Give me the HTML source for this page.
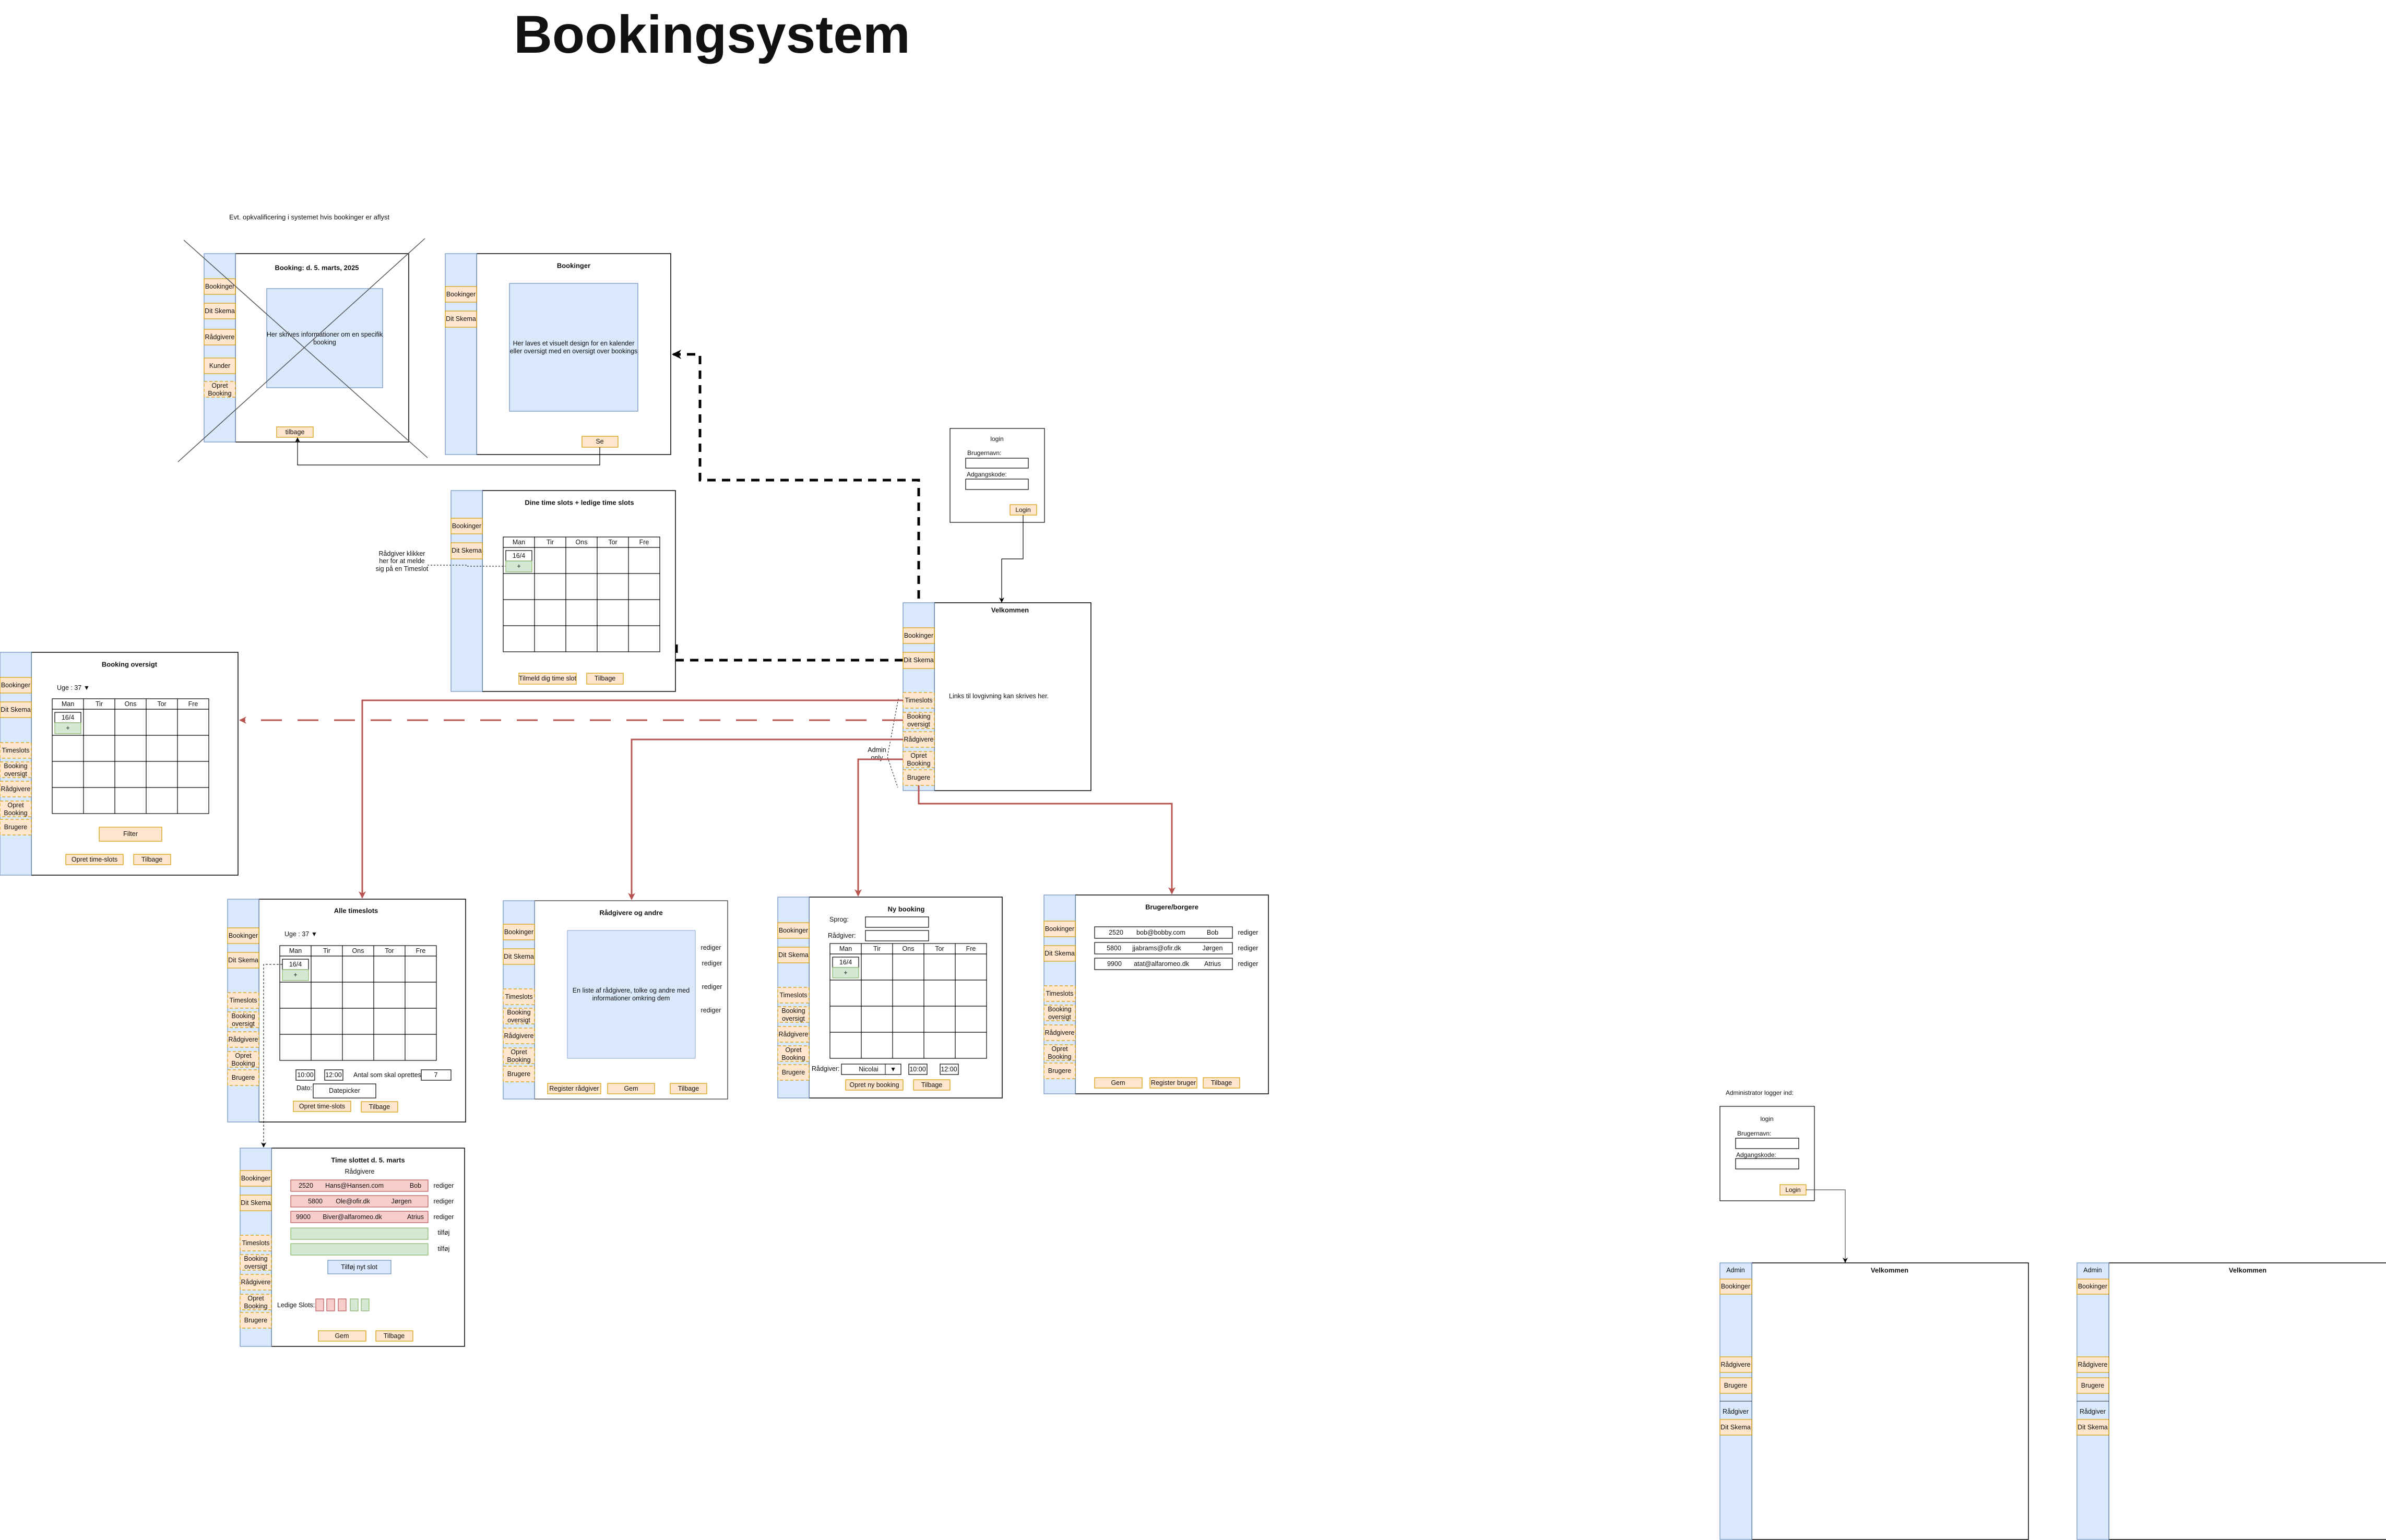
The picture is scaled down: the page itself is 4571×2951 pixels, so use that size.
<!DOCTYPE html>
<html><head><meta charset="utf-8"><style>
html,body{margin:0;padding:0;background:#fff;}
svg{display:block;font-family:"Liberation Sans",Arial,sans-serif;}
text{font-size:12.5px;fill:#111;}
.t{font-weight:bold;font-size:13px;}
.sb{fill:#dae8fc;stroke:#6c8ebf;stroke-width:1.2;}
.m{fill:#fff;stroke:#000;stroke-width:1.5;}
.nb{fill:#ffe6cc;stroke:#d79b00;stroke-width:1.2;}
.nd{fill:#ffe6cc;stroke:#d79b00;stroke-width:1.2;stroke-dasharray:6 4;}
.bl{fill:#dae8fc;stroke:#6c8ebf;stroke-width:1.2;}
.gr{fill:#d5e8d4;stroke:#82b366;stroke-width:1.2;}
.rd{fill:#f8cecc;stroke:#b85450;stroke-width:1.2;}
.bx{fill:#fff;stroke:#000;stroke-width:1.2;}
.g{fill:none;stroke:#000;stroke-width:1.5;}
.red{fill:none;stroke:#b85450;stroke-width:3;}
</style></head><body>
<svg width="4571" height="2951" viewBox="0 0 4571 2951" xmlns="http://www.w3.org/2000/svg">
<defs>
<marker id="ab" markerWidth="10" markerHeight="10" refX="8" refY="5" orient="auto" markerUnits="userSpaceOnUse"><path d="M0,0 L10,5 L0,10 L3,5 z" fill="#000"/></marker>
<marker id="ar" markerWidth="14" markerHeight="14" refX="12" refY="7" orient="auto" markerUnits="userSpaceOnUse"><path d="M0,0 L14,7 L0,14 L4,7 z" fill="#b85450"/></marker>
<marker id="abb" markerWidth="18" markerHeight="18" refX="15" refY="9" orient="auto" markerUnits="userSpaceOnUse"><path d="M0,0 L18,9 L0,18 L5,9 z" fill="#000"/></marker>
</defs>

<text x="1364" y="66" text-anchor="middle" style="font-size:102px;font-weight:bold;" dominant-baseline="central">Bookingsystem</text>

<text x="439" y="416" dominant-baseline="central" style="font-size:13px">Evt. opkvalificering i systemet hvis bookinger er aflyst</text>

<!-- Crossed booking box -->
<rect class="m" x="451" y="486" width="332" height="361"/>
<rect class="sb" x="391" y="486" width="60" height="361"/>
<rect class="nb" x="391" y="534" width="60" height="30"/><text x="421" y="549" text-anchor="middle" dominant-baseline="central">Bookinger</text>
<rect class="nb" x="391" y="581" width="60" height="30"/><text x="421" y="596" text-anchor="middle" dominant-baseline="central">Dit Skema</text>
<rect class="nb" x="391" y="631" width="60" height="30"/><text x="421" y="646" text-anchor="middle" dominant-baseline="central">Rådgivere</text>
<rect class="nb" x="391" y="686" width="60" height="30"/><text x="421" y="701" text-anchor="middle" dominant-baseline="central">Kunder</text>
<rect class="nd" x="391" y="731" width="60" height="30"/><text x="421" y="739" text-anchor="middle" dominant-baseline="central">Opret</text><text x="421" y="754" text-anchor="middle" dominant-baseline="central">Booking</text>
<text class="t" x="607" y="513" text-anchor="middle" dominant-baseline="central">Booking: d. 5. marts, 2025</text>
<rect class="bl" x="511" y="553" width="222" height="190"/>
<text x="622" y="641" text-anchor="middle" dominant-baseline="central">Her skrives informationer om en specifik</text>
<text x="622" y="656" text-anchor="middle" dominant-baseline="central">booking</text>
<rect class="nb" x="530" y="818" width="70" height="20"/><text x="565" y="828" text-anchor="middle" dominant-baseline="central">tilbage</text>
<line x1="352" y1="460" x2="819" y2="877" stroke="#555" stroke-width="1.5"/>
<line x1="341" y1="885" x2="814" y2="457" stroke="#555" stroke-width="1.5"/>

<!-- Bookinger box -->
<rect class="m" x="913" y="486" width="372" height="385"/>
<rect class="sb" x="853" y="486" width="60" height="385"/>
<rect class="nb" x="853" y="549" width="60" height="30"/><text x="883" y="564" text-anchor="middle" dominant-baseline="central">Bookinger</text>
<rect class="nb" x="853" y="596" width="60" height="31"/><text x="883" y="611" text-anchor="middle" dominant-baseline="central">Dit Skema</text>
<text class="t" x="1099" y="509" text-anchor="middle" dominant-baseline="central">Bookinger</text>
<rect class="bl" x="976" y="543" width="246" height="245"/>
<text x="1099" y="658" text-anchor="middle" dominant-baseline="central">Her laves et visuelt design for en kalender</text>
<text x="1099" y="673" text-anchor="middle" dominant-baseline="central">eller oversigt med en oversigt over bookings</text>
<rect class="nb" x="1115" y="836" width="69" height="21"/><text x="1149" y="846" text-anchor="middle" dominant-baseline="central">Se</text>
<path class="g" d="M1149,857 V891 H570 V840" marker-end="url(#ab)" style="stroke-width:1.2"/>

<!-- thick dashed -->
<path d="M1760,1203 V920 H1341 V679 H1290" fill="none" stroke="#000" stroke-width="5" stroke-dasharray="16 12" marker-end="url(#abb)"/>
<path d="M1730,1265 H1296 V1232" fill="none" stroke="#000" stroke-width="5" stroke-dasharray="16 12"/>

<!-- Login -->
<rect class="bx" x="1820" y="821" width="181" height="180"/>
<text x="1910" y="841" text-anchor="middle" dominant-baseline="central" style="font-size:12px">login</text>
<text x="1853" y="868" dominant-baseline="central" style="font-size:12px">Brugernavn:</text>
<rect class="bx" x="1850" y="878" width="120" height="19"/>
<text x="1852" y="909" dominant-baseline="central" style="font-size:12px">Adgangskode:</text>
<rect class="bx" x="1850" y="918" width="120" height="20"/>
<rect class="nb" x="1935" y="967" width="51" height="20"/><text x="1960" y="977" text-anchor="middle" dominant-baseline="central" style="font-size:12px">Login</text>
<path class="g" d="M1960,987 V1071 H1919 V1153" marker-end="url(#ab)" style="stroke-width:1.2"/>

<!-- Velkommen main -->
<rect class="m" x="1790" y="1155" width="300" height="360"/>
<rect class="sb" x="1730" y="1155" width="60" height="360"/>
<text class="t" x="1935" y="1169" text-anchor="middle" dominant-baseline="central">Velkommen</text>
<text x="1818" y="1334" dominant-baseline="central">Links til lovgivning kan skrives her.</text>
<rect class="nb" x="1730" y="1203" width="60" height="30"/><text x="1760" y="1218" text-anchor="middle" dominant-baseline="central">Bookinger</text>
<rect class="nb" x="1730" y="1250" width="60" height="31"/><text x="1760" y="1265" text-anchor="middle" dominant-baseline="central">Dit Skema</text>
<rect class="nd" x="1730" y="1327" width="60" height="30"/><text x="1760" y="1342" text-anchor="middle" dominant-baseline="central">Timeslots</text>
<rect class="nd" x="1730" y="1365" width="60" height="31"/><text x="1760" y="1373" text-anchor="middle" dominant-baseline="central">Booking</text><text x="1760" y="1388" text-anchor="middle" dominant-baseline="central">oversigt</text>
<rect class="nd" x="1730" y="1402" width="60" height="30"/><text x="1760" y="1417" text-anchor="middle" dominant-baseline="central">Rådgivere</text>
<rect class="nd" x="1730" y="1440" width="60" height="31"/><text x="1760" y="1448" text-anchor="middle" dominant-baseline="central">Opret</text><text x="1760" y="1463" text-anchor="middle" dominant-baseline="central">Booking</text>
<rect class="nd" x="1730" y="1475" width="60" height="30"/><text x="1760" y="1490" text-anchor="middle" dominant-baseline="central">Brugere</text>
<text x="1680" y="1437" text-anchor="middle" dominant-baseline="central">Admin</text>
<text x="1680" y="1452" text-anchor="middle" dominant-baseline="central">only</text>
<path d="M1721,1339 L1700,1450 L1720,1509" fill="none" stroke="#000" stroke-width="1" stroke-dasharray="3 3"/>

<!-- red connectors -->
<path class="red" d="M1730,1342 H694 V1720" marker-end="url(#ar)"/>
<path class="red" d="M1730,1380 H460" stroke-dasharray="40 30" marker-end="url(#ar)"/>
<path class="red" d="M1730,1417 H1210 V1723" marker-end="url(#ar)"/>
<path class="red" d="M1730,1455 H1644 V1716" marker-end="url(#ar)"/>
<path class="red" d="M1760,1505 V1540 H2245 V1712" marker-end="url(#ar)"/>

<!-- Dine time slots -->
<rect class="m" x="924" y="940" width="370" height="385"/>
<rect class="sb" x="864" y="940" width="60" height="385"/>
<rect class="nb" x="864" y="993" width="60" height="30"/><text x="894" y="1008" text-anchor="middle" dominant-baseline="central">Bookinger</text>
<rect class="nb" x="864" y="1040" width="60" height="31"/><text x="894" y="1055" text-anchor="middle" dominant-baseline="central">Dit Skema</text>
<text class="t" x="1110" y="963" text-anchor="middle" dominant-baseline="central">Dine time slots + ledige time slots</text>
<g transform="translate(964,1029)">
<rect class="bx" x="0" y="0" width="300" height="220"/>
<path d="M0,20 H300 M0,70 H300 M0,120 H300 M0,170 H300 M60,0 V220 M120,0 V220 M180,0 V220 M240,0 V220" stroke="#000" stroke-width="1.2" fill="none"/>
<text x="30" y="10" text-anchor="middle" dominant-baseline="central">Man</text><text x="90" y="10" text-anchor="middle" dominant-baseline="central">Tir</text><text x="150" y="10" text-anchor="middle" dominant-baseline="central">Ons</text><text x="210" y="10" text-anchor="middle" dominant-baseline="central">Tor</text><text x="270" y="10" text-anchor="middle" dominant-baseline="central">Fre</text>
<rect class="bx" x="5" y="26" width="50" height="20"/><text x="30" y="36" text-anchor="middle" dominant-baseline="central">16/4</text>
<rect class="gr" x="5" y="46" width="50" height="21"/><text x="30" y="56" text-anchor="middle" dominant-baseline="central">+</text>
</g>
<rect class="nb" x="994" y="1290" width="110" height="21"/><text x="1049" y="1300" text-anchor="middle" dominant-baseline="central">Tilmeld dig time slot</text>
<rect class="nb" x="1124" y="1290" width="70" height="21"/><text x="1159" y="1300" text-anchor="middle" dominant-baseline="central">Tilbage</text>
<text x="770" y="1061" text-anchor="middle" dominant-baseline="central">Rådgiver klikker</text>
<text x="770" y="1075" text-anchor="middle" dominant-baseline="central">her for at melde</text>
<text x="770" y="1090" text-anchor="middle" dominant-baseline="central">sig på en Timeslot</text>
<path d="M819,1083 H894 V1085 H968" fill="none" stroke="#000" stroke-width="1" stroke-dasharray="3 3"/>

<!-- Booking oversigt -->
<rect class="m" x="60" y="1250" width="396" height="427"/>
<rect class="sb" x="0" y="1250" width="60" height="427"/>
<text class="t" x="248" y="1273" text-anchor="middle" dominant-baseline="central">Booking oversigt</text>
<rect class="nb" x="0" y="1298" width="60" height="30"/><text x="30" y="1313" text-anchor="middle" dominant-baseline="central">Bookinger</text>
<rect class="nb" x="0" y="1345" width="60" height="30"/><text x="30" y="1360" text-anchor="middle" dominant-baseline="central">Dit Skema</text>
<rect class="nd" x="0" y="1423" width="60" height="30"/><text x="30" y="1438" text-anchor="middle" dominant-baseline="central">Timeslots</text>
<rect class="nd" x="0" y="1460" width="60" height="30"/><text x="30" y="1468" text-anchor="middle" dominant-baseline="central">Booking</text><text x="30" y="1483" text-anchor="middle" dominant-baseline="central">oversigt</text>
<rect class="nd" x="0" y="1497" width="60" height="30"/><text x="30" y="1512" text-anchor="middle" dominant-baseline="central">Rådgivere</text>
<rect class="nd" x="0" y="1535" width="60" height="30"/><text x="30" y="1543" text-anchor="middle" dominant-baseline="central">Opret</text><text x="30" y="1558" text-anchor="middle" dominant-baseline="central">Booking</text>
<rect class="nd" x="0" y="1570" width="60" height="30"/><text x="30" y="1585" text-anchor="middle" dominant-baseline="central">Brugere</text>
<text x="109" y="1318" dominant-baseline="central">Uge : 37 ▼</text>
<g transform="translate(100,1339)">
<rect class="bx" x="0" y="0" width="300" height="220"/>
<path d="M0,20 H300 M0,70 H300 M0,120 H300 M0,170 H300 M60,0 V220 M120,0 V220 M180,0 V220 M240,0 V220" stroke="#000" stroke-width="1.2" fill="none"/>
<text x="30" y="10" text-anchor="middle" dominant-baseline="central">Man</text><text x="90" y="10" text-anchor="middle" dominant-baseline="central">Tir</text><text x="150" y="10" text-anchor="middle" dominant-baseline="central">Ons</text><text x="210" y="10" text-anchor="middle" dominant-baseline="central">Tor</text><text x="270" y="10" text-anchor="middle" dominant-baseline="central">Fre</text>
<rect class="bx" x="5" y="26" width="50" height="20"/><text x="30" y="36" text-anchor="middle" dominant-baseline="central">16/4</text>
<rect class="gr" x="5" y="46" width="50" height="21"/><text x="30" y="56" text-anchor="middle" dominant-baseline="central">+</text>
</g>
<rect class="nb" x="190" y="1585" width="120" height="27"/><text x="250" y="1598" text-anchor="middle" dominant-baseline="central">Filter</text>
<rect class="nb" x="126" y="1637" width="110" height="20"/><text x="181" y="1647" text-anchor="middle" dominant-baseline="central">Opret time-slots</text>
<rect class="nb" x="256" y="1637" width="71" height="20"/><text x="291" y="1647" text-anchor="middle" dominant-baseline="central">Tilbage</text>

<!-- Alle timeslots -->
<rect class="m" x="496" y="1723" width="396" height="427"/>
<rect class="sb" x="436" y="1723" width="60" height="427"/>
<text class="t" x="682" y="1745" text-anchor="middle" dominant-baseline="central">Alle timeslots</text>
<rect class="nb" x="436" y="1778" width="60" height="30"/><text x="466" y="1793" text-anchor="middle" dominant-baseline="central">Bookinger</text>
<rect class="nb" x="436" y="1825" width="60" height="30"/><text x="466" y="1840" text-anchor="middle" dominant-baseline="central">Dit Skema</text>
<rect class="nd" x="436" y="1902" width="60" height="30"/><text x="466" y="1917" text-anchor="middle" dominant-baseline="central">Timeslots</text>
<rect class="nd" x="436" y="1939" width="60" height="30"/><text x="466" y="1947" text-anchor="middle" dominant-baseline="central">Booking</text><text x="466" y="1962" text-anchor="middle" dominant-baseline="central">oversigt</text>
<rect class="nd" x="436" y="1977" width="60" height="30"/><text x="466" y="1992" text-anchor="middle" dominant-baseline="central">Rådgivere</text>
<rect class="nd" x="436" y="2015" width="60" height="30"/><text x="466" y="2023" text-anchor="middle" dominant-baseline="central">Opret</text><text x="466" y="2038" text-anchor="middle" dominant-baseline="central">Booking</text>
<rect class="nd" x="436" y="2050" width="60" height="30"/><text x="466" y="2065" text-anchor="middle" dominant-baseline="central">Brugere</text>
<text x="545" y="1790" dominant-baseline="central">Uge : 37 ▼</text>
<g transform="translate(536,1812)">
<rect class="bx" x="0" y="0" width="300" height="220"/>
<path d="M0,20 H300 M0,70 H300 M0,120 H300 M0,170 H300 M60,0 V220 M120,0 V220 M180,0 V220 M240,0 V220" stroke="#000" stroke-width="1.2" fill="none"/>
<text x="30" y="10" text-anchor="middle" dominant-baseline="central">Man</text><text x="90" y="10" text-anchor="middle" dominant-baseline="central">Tir</text><text x="150" y="10" text-anchor="middle" dominant-baseline="central">Ons</text><text x="210" y="10" text-anchor="middle" dominant-baseline="central">Tor</text><text x="270" y="10" text-anchor="middle" dominant-baseline="central">Fre</text>
<rect class="bx" x="5" y="26" width="50" height="20"/><text x="30" y="36" text-anchor="middle" dominant-baseline="central">16/4</text>
<rect class="gr" x="5" y="46" width="50" height="21"/><text x="30" y="56" text-anchor="middle" dominant-baseline="central">+</text>
</g>
<rect class="bx" x="567" y="2050" width="36" height="20"/><text x="585" y="2060" text-anchor="middle" dominant-baseline="central">10:00</text>
<rect class="bx" x="622" y="2050" width="35" height="20"/><text x="639" y="2060" text-anchor="middle" dominant-baseline="central">12:00</text>
<text x="677" y="2060" dominant-baseline="central">Antal som skal oprettes:</text>
<rect class="bx" x="807" y="2050" width="57" height="20"/><text x="835" y="2060" text-anchor="middle" dominant-baseline="central">7</text>
<text x="568" y="2085" dominant-baseline="central">Dato:</text>
<rect class="bx" x="600" y="2077" width="120" height="27"/><text x="660" y="2090" text-anchor="middle" dominant-baseline="central">Datepicker</text>
<rect class="nb" x="562" y="2110" width="110" height="20"/><text x="617" y="2120" text-anchor="middle" dominant-baseline="central">Opret time-slots</text>
<rect class="nb" x="692" y="2111" width="70" height="20"/><text x="727" y="2121" text-anchor="middle" dominant-baseline="central">Tilbage</text>
<path d="M541,1848 H505 V2197" fill="none" stroke="#000" stroke-width="1" stroke-dasharray="4 3" marker-end="url(#ab)"/>

<!-- Time slottet -->
<rect class="m" x="520" y="2200" width="370" height="380"/>
<rect class="sb" x="460" y="2200" width="60" height="380"/>
<text class="t" x="705" y="2223" text-anchor="middle" dominant-baseline="central">Time slottet d. 5. marts</text>
<text x="689" y="2245" text-anchor="middle" dominant-baseline="central">Rådgivere</text>
<rect class="nb" x="460" y="2243" width="60" height="30"/><text x="490" y="2258" text-anchor="middle" dominant-baseline="central">Bookinger</text>
<rect class="nb" x="460" y="2290" width="60" height="30"/><text x="490" y="2305" text-anchor="middle" dominant-baseline="central">Dit Skema</text>
<rect class="nd" x="460" y="2367" width="60" height="30"/><text x="490" y="2382" text-anchor="middle" dominant-baseline="central">Timeslots</text>
<rect class="nd" x="460" y="2404" width="60" height="30"/><text x="490" y="2412" text-anchor="middle" dominant-baseline="central">Booking</text><text x="490" y="2427" text-anchor="middle" dominant-baseline="central">oversigt</text>
<rect class="nd" x="460" y="2442" width="60" height="30"/><text x="490" y="2457" text-anchor="middle" dominant-baseline="central">Rådgivere</text>
<rect class="nd" x="460" y="2480" width="60" height="30"/><text x="490" y="2488" text-anchor="middle" dominant-baseline="central">Opret</text><text x="490" y="2503" text-anchor="middle" dominant-baseline="central">Booking</text>
<rect class="nd" x="460" y="2515" width="60" height="30"/><text x="490" y="2530" text-anchor="middle" dominant-baseline="central">Brugere</text>
<rect class="rd" x="557" y="2261" width="263" height="22"/>
<text x="586" y="2272" text-anchor="middle" dominant-baseline="central">2520</text><text x="679" y="2272" text-anchor="middle" dominant-baseline="central">Hans@Hansen.com</text><text x="796" y="2272" text-anchor="middle" dominant-baseline="central">Bob</text>
<rect class="rd" x="557" y="2291" width="263" height="22"/>
<text x="604" y="2302" text-anchor="middle" dominant-baseline="central">5800</text><text x="676" y="2302" text-anchor="middle" dominant-baseline="central">Ole@ofir.dk</text><text x="769" y="2302" text-anchor="middle" dominant-baseline="central">Jørgen</text>
<rect class="rd" x="557" y="2321" width="263" height="22"/>
<text x="581" y="2332" text-anchor="middle" dominant-baseline="central">9900</text><text x="675" y="2332" text-anchor="middle" dominant-baseline="central">Biver@alfaromeo.dk</text><text x="796" y="2332" text-anchor="middle" dominant-baseline="central">Atrius</text>
<rect class="gr" x="557" y="2353" width="263" height="22"/>
<rect class="gr" x="557" y="2383" width="263" height="22"/>
<text x="850" y="2272" text-anchor="middle" dominant-baseline="central">rediger</text>
<text x="850" y="2302" text-anchor="middle" dominant-baseline="central">rediger</text>
<text x="850" y="2332" text-anchor="middle" dominant-baseline="central">rediger</text>
<text x="850" y="2362" text-anchor="middle" dominant-baseline="central">tilføj</text>
<text x="850" y="2393" text-anchor="middle" dominant-baseline="central">tilføj</text>
<rect class="bl" x="628" y="2415" width="121" height="26"/><text x="688" y="2428" text-anchor="middle" dominant-baseline="central">Tilføj nyt slot</text>
<text x="531" y="2501" dominant-baseline="central">Ledige Slots:</text>
<rect class="rd" x="605" y="2489" width="15" height="23"/><rect class="rd" x="626" y="2489" width="15" height="23"/><rect class="rd" x="648" y="2489" width="15" height="23"/>
<rect class="gr" x="671" y="2489" width="15" height="23"/><rect class="gr" x="692" y="2489" width="15" height="23"/>
<rect class="nb" x="610" y="2550" width="91" height="20"/><text x="655" y="2560" text-anchor="middle" dominant-baseline="central">Gem</text>
<rect class="nb" x="720" y="2550" width="71" height="20"/><text x="755" y="2560" text-anchor="middle" dominant-baseline="central">Tilbage</text>

<!-- Rådgivere og andre -->
<rect class="m" x="1024" y="1726" width="370" height="380" style="stroke:#555"/>
<rect class="sb" x="964" y="1726" width="60" height="380"/>
<text class="t" x="1209" y="1749" text-anchor="middle" dominant-baseline="central">Rådgivere og andre</text>
<rect class="nb" x="964" y="1771" width="60" height="30"/><text x="994" y="1786" text-anchor="middle" dominant-baseline="central">Bookinger</text>
<rect class="nb" x="964" y="1818" width="60" height="30"/><text x="994" y="1833" text-anchor="middle" dominant-baseline="central">Dit Skema</text>
<rect class="nd" x="964" y="1895" width="60" height="30"/><text x="994" y="1910" text-anchor="middle" dominant-baseline="central">Timeslots</text>
<rect class="nd" x="964" y="1932" width="60" height="30"/><text x="994" y="1940" text-anchor="middle" dominant-baseline="central">Booking</text><text x="994" y="1955" text-anchor="middle" dominant-baseline="central">oversigt</text>
<rect class="nd" x="964" y="1970" width="60" height="30"/><text x="994" y="1985" text-anchor="middle" dominant-baseline="central">Rådgivere</text>
<rect class="nd" x="964" y="2008" width="60" height="30"/><text x="994" y="2016" text-anchor="middle" dominant-baseline="central">Opret</text><text x="994" y="2031" text-anchor="middle" dominant-baseline="central">Booking</text>
<rect class="nd" x="964" y="2043" width="60" height="30"/><text x="994" y="2058" text-anchor="middle" dominant-baseline="central">Brugere</text>
<rect class="bl" x="1087" y="1783" width="245" height="245" style="stroke:#9ab0d8"/>
<text x="1209" y="1898" text-anchor="middle" dominant-baseline="central">En liste af rådgivere, tolke og andre med</text>
<text x="1209" y="1913" text-anchor="middle" dominant-baseline="central">informationer omkring dem</text>
<text x="1362" y="1816" text-anchor="middle" dominant-baseline="central">rediger</text>
<text x="1364" y="1846" text-anchor="middle" dominant-baseline="central">rediger</text>
<text x="1364" y="1891" text-anchor="middle" dominant-baseline="central">rediger</text>
<text x="1362" y="1936" text-anchor="middle" dominant-baseline="central">rediger</text>
<rect class="nb" x="1049" y="2076" width="102" height="20"/><text x="1100" y="2086" text-anchor="middle" dominant-baseline="central">Register rådgiver</text>
<rect class="nb" x="1164" y="2076" width="90" height="20"/><text x="1209" y="2086" text-anchor="middle" dominant-baseline="central">Gem</text>
<rect class="nb" x="1284" y="2076" width="70" height="20"/><text x="1319" y="2086" text-anchor="middle" dominant-baseline="central">Tilbage</text>

<!-- Ny booking -->
<rect class="m" x="1550" y="1719" width="370" height="385"/>
<rect class="sb" x="1490" y="1719" width="60" height="385"/>
<text class="t" x="1736" y="1742" text-anchor="middle" dominant-baseline="central">Ny booking</text>
<rect class="nb" x="1490" y="1768" width="60" height="30"/><text x="1520" y="1783" text-anchor="middle" dominant-baseline="central">Bookinger</text>
<rect class="nb" x="1490" y="1815" width="60" height="30"/><text x="1520" y="1830" text-anchor="middle" dominant-baseline="central">Dit Skema</text>
<rect class="nd" x="1490" y="1892" width="60" height="30"/><text x="1520" y="1907" text-anchor="middle" dominant-baseline="central">Timeslots</text>
<rect class="nd" x="1490" y="1929" width="60" height="30"/><text x="1520" y="1937" text-anchor="middle" dominant-baseline="central">Booking</text><text x="1520" y="1952" text-anchor="middle" dominant-baseline="central">oversigt</text>
<rect class="nd" x="1490" y="1967" width="60" height="30"/><text x="1520" y="1982" text-anchor="middle" dominant-baseline="central">Rådgivere</text>
<rect class="nd" x="1490" y="2004" width="60" height="30"/><text x="1520" y="2012" text-anchor="middle" dominant-baseline="central">Opret</text><text x="1520" y="2027" text-anchor="middle" dominant-baseline="central">Booking</text>
<rect class="nd" x="1490" y="2040" width="60" height="30"/><text x="1520" y="2055" text-anchor="middle" dominant-baseline="central">Brugere</text>
<text x="1589" y="1762" dominant-baseline="central">Sprog:</text>
<rect class="bx" x="1658" y="1757" width="121" height="20"/>
<text x="1586" y="1793" dominant-baseline="central">Rådgiver:</text>
<rect class="bx" x="1658" y="1783" width="121" height="20"/>
<g transform="translate(1590,1808)">
<rect class="bx" x="0" y="0" width="300" height="220"/>
<path d="M0,20 H300 M0,70 H300 M0,120 H300 M0,170 H300 M60,0 V220 M120,0 V220 M180,0 V220 M240,0 V220" stroke="#000" stroke-width="1.2" fill="none"/>
<text x="30" y="10" text-anchor="middle" dominant-baseline="central">Man</text><text x="90" y="10" text-anchor="middle" dominant-baseline="central">Tir</text><text x="150" y="10" text-anchor="middle" dominant-baseline="central">Ons</text><text x="210" y="10" text-anchor="middle" dominant-baseline="central">Tor</text><text x="270" y="10" text-anchor="middle" dominant-baseline="central">Fre</text>
<rect class="bx" x="5" y="26" width="50" height="20"/><text x="30" y="36" text-anchor="middle" dominant-baseline="central">16/4</text>
<rect class="gr" x="5" y="46" width="50" height="20"/><text x="30" y="56" text-anchor="middle" dominant-baseline="central">+</text>
</g>
<text x="1555" y="2048" dominant-baseline="central">Rådgiver:</text>
<rect class="bx" x="1612" y="2039" width="114" height="20"/><line x1="1696" y1="2039" x2="1696" y2="2059" stroke="#000"/>
<text x="1664" y="2049" text-anchor="middle" dominant-baseline="central">Nicolai</text><text x="1711" y="2049" text-anchor="middle" dominant-baseline="central">▼</text>
<rect class="bx" x="1741" y="2039" width="35" height="20"/><text x="1758" y="2049" text-anchor="middle" dominant-baseline="central">10:00</text>
<rect class="bx" x="1801" y="2039" width="35" height="20"/><text x="1818" y="2049" text-anchor="middle" dominant-baseline="central">12:00</text>
<rect class="nb" x="1620" y="2069" width="110" height="20"/><text x="1675" y="2079" text-anchor="middle" dominant-baseline="central">Opret ny booking</text>
<rect class="nb" x="1750" y="2069" width="70" height="20"/><text x="1785" y="2079" text-anchor="middle" dominant-baseline="central">Tilbage</text>

<!-- Brugere/borgere -->
<rect class="m" x="2060" y="1715" width="370" height="381"/>
<rect class="sb" x="2000" y="1715" width="60" height="381"/>
<text class="t" x="2245" y="1738" text-anchor="middle" dominant-baseline="central">Brugere/borgere</text>
<rect class="nb" x="2000" y="1765" width="60" height="30"/><text x="2030" y="1780" text-anchor="middle" dominant-baseline="central">Bookinger</text>
<rect class="nb" x="2000" y="1812" width="60" height="30"/><text x="2030" y="1827" text-anchor="middle" dominant-baseline="central">Dit Skema</text>
<rect class="nd" x="2000" y="1889" width="60" height="30"/><text x="2030" y="1904" text-anchor="middle" dominant-baseline="central">Timeslots</text>
<rect class="nd" x="2000" y="1926" width="60" height="30"/><text x="2030" y="1934" text-anchor="middle" dominant-baseline="central">Booking</text><text x="2030" y="1949" text-anchor="middle" dominant-baseline="central">oversigt</text>
<rect class="nd" x="2000" y="1964" width="60" height="30"/><text x="2030" y="1979" text-anchor="middle" dominant-baseline="central">Rådgivere</text>
<rect class="nd" x="2000" y="2002" width="60" height="30"/><text x="2030" y="2010" text-anchor="middle" dominant-baseline="central">Opret</text><text x="2030" y="2025" text-anchor="middle" dominant-baseline="central">Booking</text>
<rect class="nd" x="2000" y="2037" width="60" height="30"/><text x="2030" y="2052" text-anchor="middle" dominant-baseline="central">Brugere</text>
<rect class="bx" x="2097" y="1776" width="264" height="22"/>
<text x="2138" y="1787" text-anchor="middle" dominant-baseline="central">2520</text><text x="2224" y="1787" text-anchor="middle" dominant-baseline="central">bob@bobby.com</text><text x="2323" y="1787" text-anchor="middle" dominant-baseline="central">Bob</text>
<rect class="bx" x="2097" y="1806" width="264" height="22"/>
<text x="2134" y="1817" text-anchor="middle" dominant-baseline="central">5800</text><text x="2216" y="1817" text-anchor="middle" dominant-baseline="central">jjabrams@ofir.dk</text><text x="2323" y="1817" text-anchor="middle" dominant-baseline="central">Jørgen</text>
<rect class="bx" x="2097" y="1836" width="264" height="22"/>
<text x="2135" y="1847" text-anchor="middle" dominant-baseline="central">9900</text><text x="2225" y="1847" text-anchor="middle" dominant-baseline="central">atat@alfaromeo.dk</text><text x="2323" y="1847" text-anchor="middle" dominant-baseline="central">Atrius</text>
<text x="2391" y="1787" text-anchor="middle" dominant-baseline="central">rediger</text>
<text x="2391" y="1817" text-anchor="middle" dominant-baseline="central">rediger</text>
<text x="2391" y="1847" text-anchor="middle" dominant-baseline="central">rediger</text>
<rect class="nb" x="2097" y="2065" width="91" height="20"/><text x="2142" y="2075" text-anchor="middle" dominant-baseline="central">Gem</text>
<rect class="nb" x="2203" y="2065" width="90" height="20"/><text x="2248" y="2075" text-anchor="middle" dominant-baseline="central">Register bruger</text>
<rect class="nb" x="2305" y="2065" width="70" height="20"/><text x="2340" y="2075" text-anchor="middle" dominant-baseline="central">Tilbage</text>

<!-- Admin login -->
<text x="3306" y="2094" dominant-baseline="central" style="font-size:12px">Administrator logger ind:</text>
<rect class="bx" x="3295" y="2120" width="181" height="181"/>
<text x="3385" y="2144" text-anchor="middle" dominant-baseline="central" style="font-size:12px">login</text>
<text x="3328" y="2172" dominant-baseline="central" style="font-size:12px">Brugernavn:</text>
<rect class="bx" x="3325" y="2181" width="121" height="20"/>
<text x="3326" y="2213" dominant-baseline="central" style="font-size:12px">Adgangskode:</text>
<rect class="bx" x="3325" y="2220" width="121" height="20"/>
<rect class="nb" x="3410" y="2270" width="50" height="20"/><text x="3435" y="2280" text-anchor="middle" dominant-baseline="central" style="font-size:12px">Login</text>
<path d="M3460,2280 H3535 V2418" fill="none" stroke="#555" stroke-width="1.2" marker-end="url(#ab)"/>

<!-- Admin Velkommen 1 -->
<rect class="m" x="3356" y="2420" width="530" height="530"/>
<rect class="sb" x="3295" y="2420" width="61" height="530"/>
<text class="t" x="3620" y="2434" text-anchor="middle" dominant-baseline="central">Velkommen</text>
<text x="3325" y="2434" text-anchor="middle" dominant-baseline="central">Admin</text>
<rect class="nb" x="3295" y="2451" width="61" height="29"/><text x="3325" y="2465" text-anchor="middle" dominant-baseline="central">Bookinger</text>
<rect class="nb" x="3295" y="2600" width="61" height="30"/><text x="3325" y="2615" text-anchor="middle" dominant-baseline="central">Rådgivere</text>
<rect class="nb" x="3295" y="2640" width="61" height="30"/><text x="3325" y="2655" text-anchor="middle" dominant-baseline="central">Brugere</text>
<line x1="3295" y1="2685" x2="3356" y2="2685" stroke="#333" stroke-width="1"/>
<text x="3325" y="2705" text-anchor="middle" dominant-baseline="central">Rådgiver</text>
<rect class="nb" x="3295" y="2720" width="61" height="30"/><text x="3325" y="2735" text-anchor="middle" dominant-baseline="central">Dit Skema</text>

<!-- Admin Velkommen 2 -->
<rect class="m" x="4040" y="2420" width="540" height="530"/>
<rect class="sb" x="3979" y="2420" width="61" height="530"/>
<text class="t" x="4306" y="2434" text-anchor="middle" dominant-baseline="central">Velkommen</text>
<text x="4009" y="2434" text-anchor="middle" dominant-baseline="central">Admin</text>
<rect class="nb" x="3979" y="2451" width="61" height="29"/><text x="4009" y="2465" text-anchor="middle" dominant-baseline="central">Bookinger</text>
<rect class="nb" x="3979" y="2600" width="61" height="30"/><text x="4009" y="2615" text-anchor="middle" dominant-baseline="central">Rådgivere</text>
<rect class="nb" x="3979" y="2640" width="61" height="30"/><text x="4009" y="2655" text-anchor="middle" dominant-baseline="central">Brugere</text>
<line x1="3979" y1="2685" x2="4040" y2="2685" stroke="#333" stroke-width="1"/>
<text x="4009" y="2705" text-anchor="middle" dominant-baseline="central">Rådgiver</text>
<rect class="nb" x="3979" y="2720" width="61" height="30"/><text x="4009" y="2735" text-anchor="middle" dominant-baseline="central">Dit Skema</text>
</svg>
</body></html>
